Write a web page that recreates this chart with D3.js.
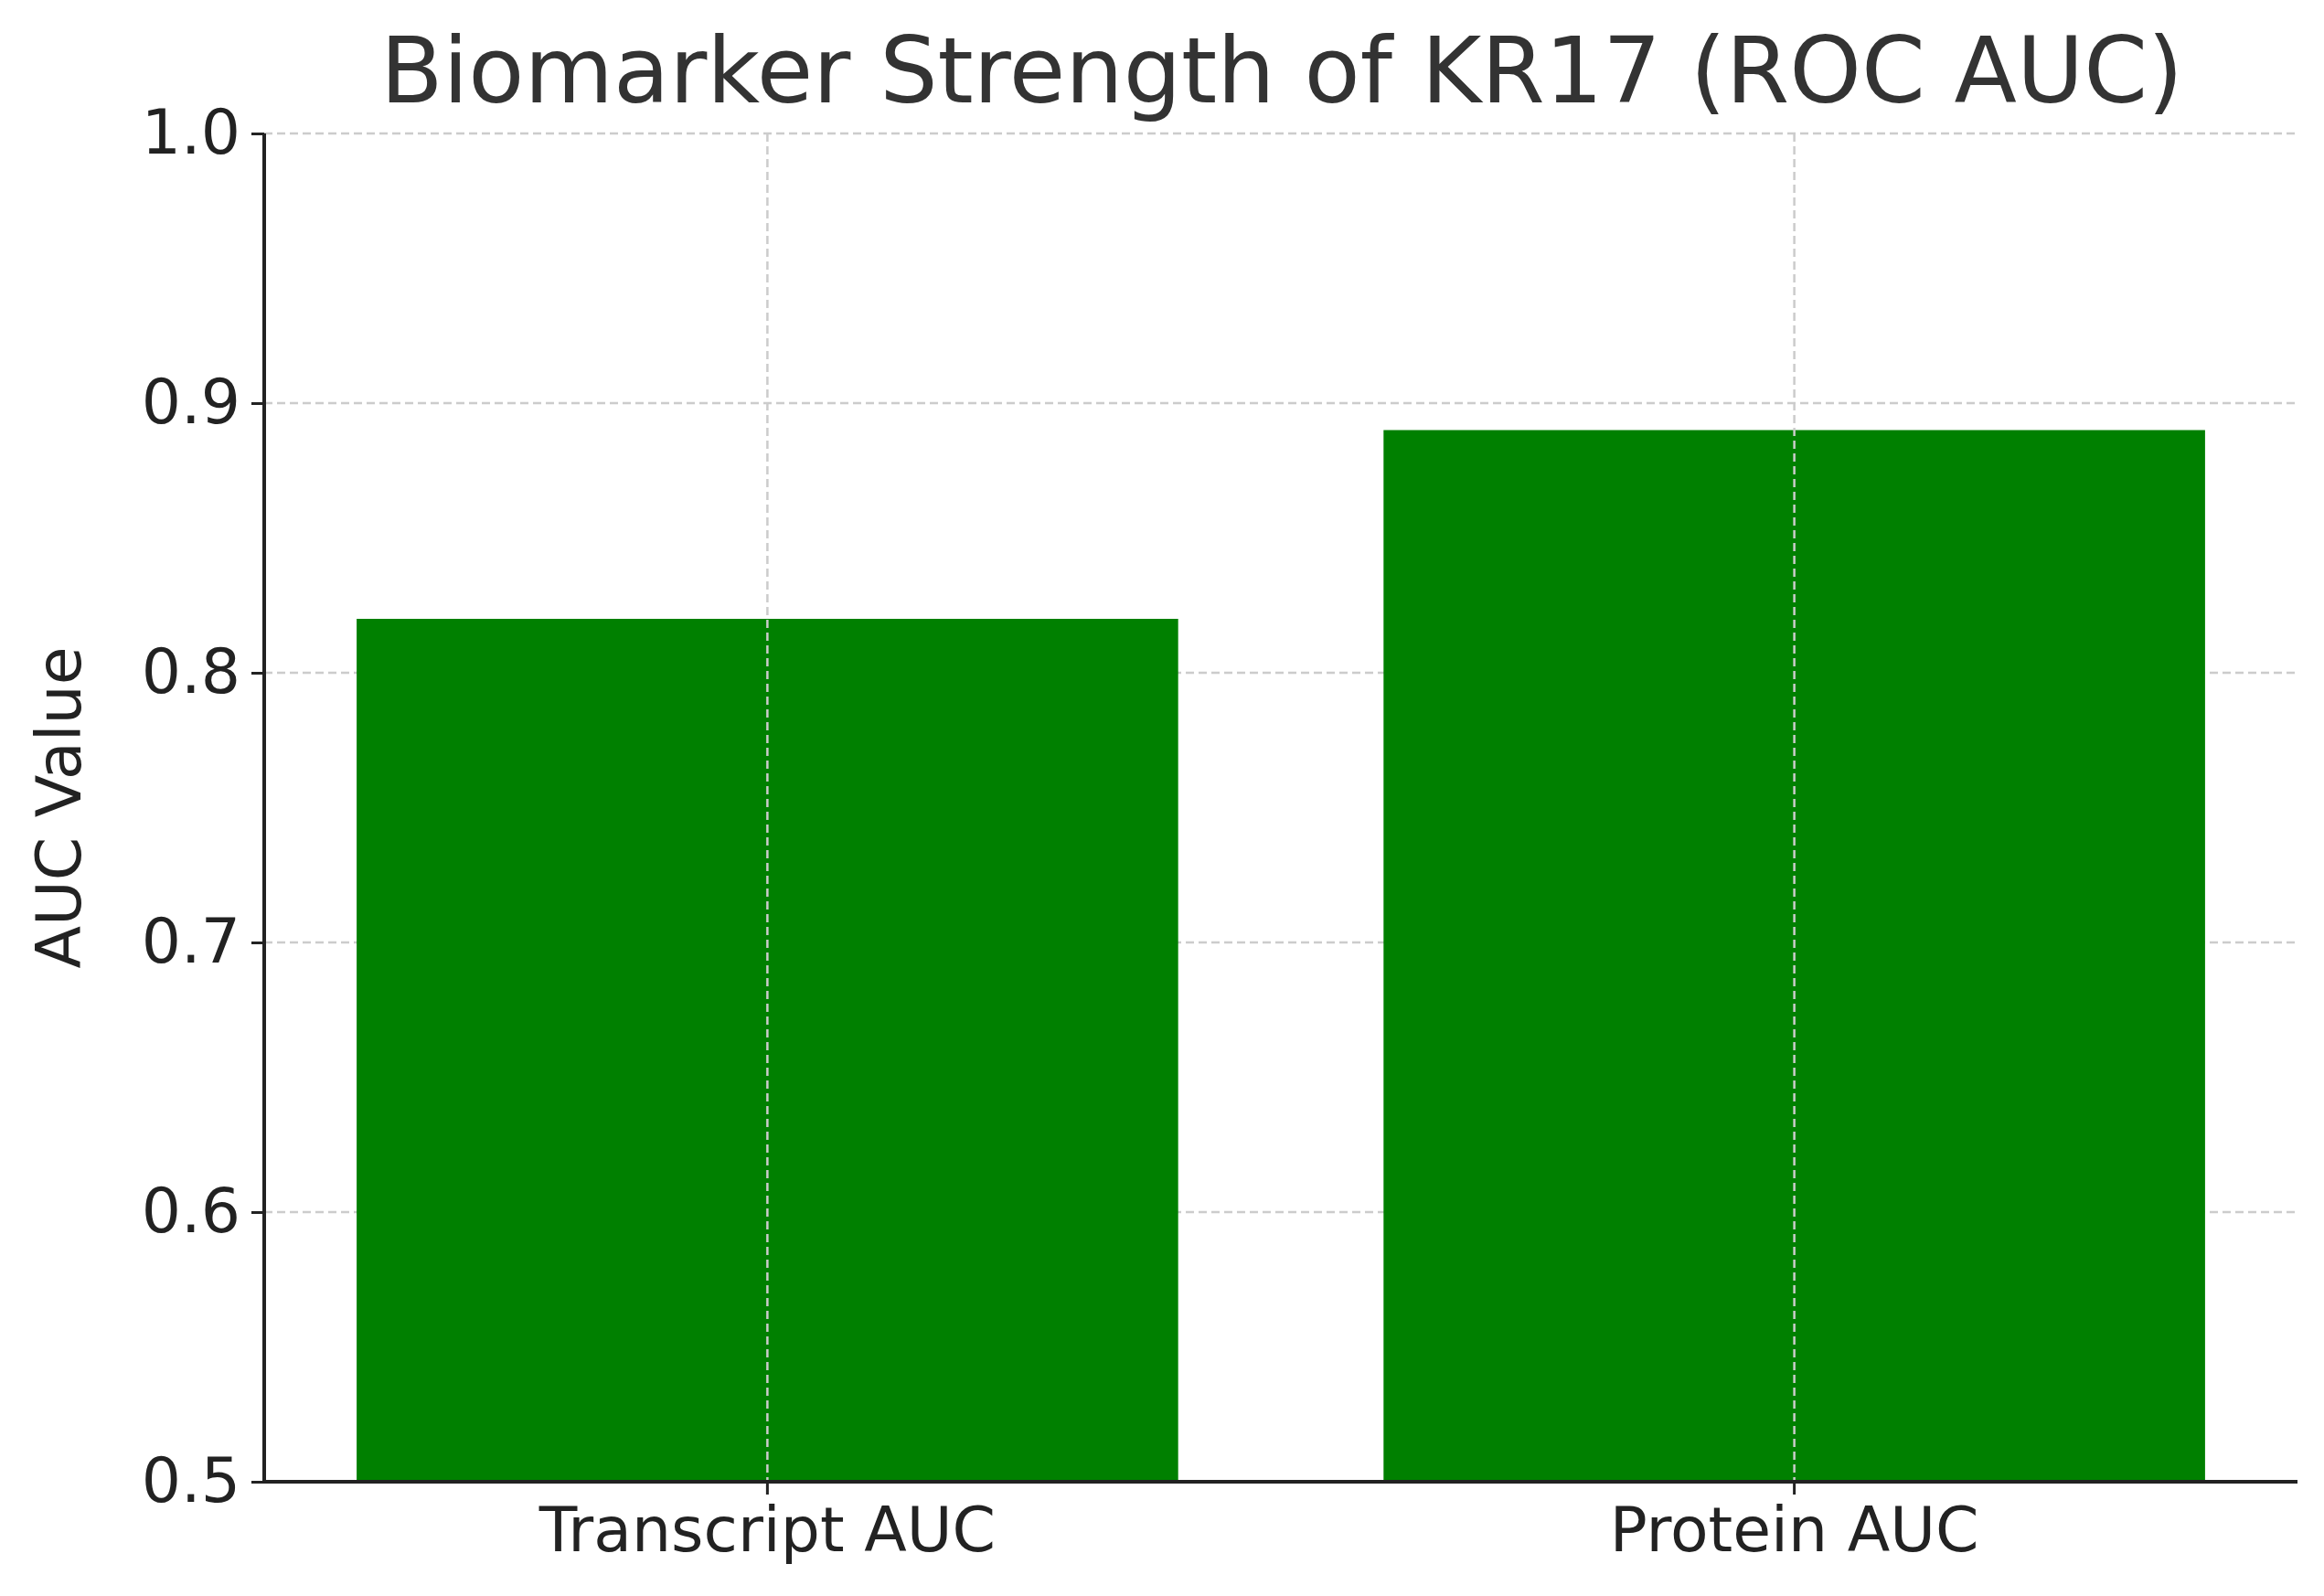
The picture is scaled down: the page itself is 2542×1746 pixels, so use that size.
<!DOCTYPE html>
<html><head><meta charset="utf-8">
<script src="https://cdn.jsdelivr.net/npm/d3@7"></script>
<style>body{margin:0;background:#fff}</style>
</head><body>
<svg id="chart" width="2542" height="1746"></svg>
<script>
var categories = ["Transcript AUC", "Protein AUC"];
var values = [0.82, 0.89];
var yTicks = [0.5, 0.6, 0.7, 0.8, 0.9, 1.0];

var svg = d3.select("#chart"),
	margin = {top: 146, right: 29, bottom: 125, left: 289},
	width = 2542 - margin.left - margin.right,
	height = 1746 - margin.top - margin.bottom,
	g = svg.append("g").attr("transform", "translate(" + margin.left + "," + margin.top + ")");

var font = "'DejaVu Sans', sans-serif";

var x = d3.scaleBand().domain(categories).range([0, width]).paddingInner(0.2).paddingOuter(0.09);
var y = d3.scaleLinear().domain([0.5, 1.0]).range([height, 0]);

// grid
g.selectAll(".hgrid").data(yTicks).enter().append("line")
	.attr("x1", 0).attr("x2", width)
	.attr("y1", function(d){ return y(d); }).attr("y2", function(d){ return y(d); })
	.attr("stroke", "#cccccc").attr("stroke-width", 2.5).attr("stroke-dasharray", "9,5");

g.selectAll(".bar").data(values).enter().append("rect")
	.attr("x", function(d, i){ return x(categories[i]); })
	.attr("width", x.bandwidth())
	.attr("y", function(d){ return y(d); })
	.attr("height", function(d){ return height - y(d); })
	.attr("fill", "#008000");

g.selectAll(".vgrid").data(categories).enter().append("line")
	.attr("x1", function(d){ return x(d) + x.bandwidth() / 2; })
	.attr("x2", function(d){ return x(d) + x.bandwidth() / 2; })
	.attr("y1", 0).attr("y2", height)
	.attr("stroke", "#cccccc").attr("stroke-width", 2.5).attr("stroke-dasharray", "9,5");

var yAxis = g.append("g").call(d3.axisLeft(y).tickValues(yTicks).tickFormat(d3.format(".1f")).tickSize(14).tickPadding(12));
var xAxis = g.append("g").attr("transform", "translate(0," + height + ")")
	.call(d3.axisBottom(x).tickSize(14).tickPadding(14));

[yAxis, xAxis].forEach(function(a){
	a.select(".domain").attr("stroke", "#222").attr("stroke-width", 4);
	a.selectAll(".tick line").attr("stroke", "#222").attr("stroke-width", 3);
	a.selectAll(".tick text").attr("fill", "#222").style("font", "68px " + font);
});
xAxis.select(".domain").attr("d", "M0,0H" + width);
yAxis.select(".domain").attr("d", "M0,0V" + height);

svg.append("text").attr("x", 1402).attr("y", 112).attr("text-anchor", "middle")
	.attr("fill", "#333").style("font", "100px " + font)
	.text("Biomarker Strength of KR17 (ROC AUC)");

svg.append("text").attr("transform", "translate(88," + (margin.top + height / 2) + ") rotate(-90)")
	.attr("text-anchor", "middle").attr("fill", "#222").style("font", "68px " + font)
	.text("AUC Value");
</script>
</body></html>
